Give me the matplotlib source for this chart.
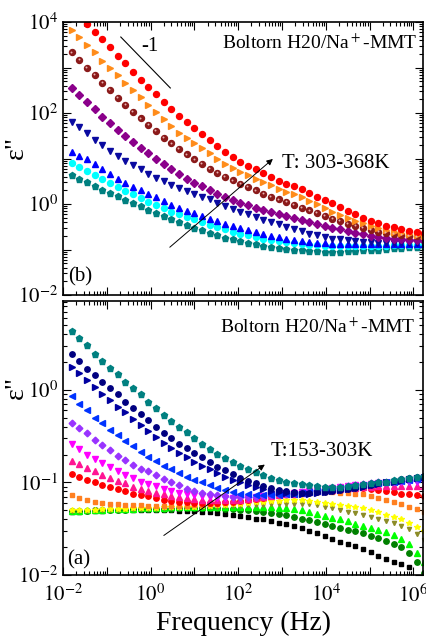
import numpy as np
import matplotlib
matplotlib.use('Agg')
import matplotlib.pyplot as plt
from matplotlib.ticker import LogLocator, FuncFormatter, NullFormatter
from matplotlib.transforms import ScaledTranslation

plt.rcParams['font.family'] = ['Liberation Serif', 'DejaVu Serif']
plt.rcParams['mathtext.fontset'] = 'stix'

# log10 of frequency (Hz), same grid for all curves
logf = [-1.800, -1.625, -1.450, -1.275, -1.100, -0.925, -0.750, -0.575, -0.400, -0.225,
        -0.050, 0.125, 0.300, 0.475, 0.650, 0.825, 1.000, 1.175, 1.350, 1.525,
        1.700, 1.875, 2.050, 2.225, 2.400, 2.575, 2.750, 2.925, 3.100, 3.275,
        3.450, 3.625, 3.800, 3.975, 4.150, 4.325, 4.500, 4.675, 4.850, 5.025,
        5.200, 5.375, 5.550, 5.725, 5.900, 6.075, 6.250]

# ---- panel (b): log10(eps'') , 303-368K ----
b_red = [4.30, 4.13, 3.96, 3.79, 3.62, 3.44, 3.26, 3.09, 2.91, 2.73,
         2.58, 2.42, 2.25, 2.08, 1.93, 1.81, 1.67, 1.54, 1.40, 1.27,
         1.15, 1.04, 0.92, 0.83, 0.76, 0.68, 0.59, 0.51, 0.45, 0.39,
         0.32, 0.24, 0.16, 0.09, 0.02, -0.07, -0.15, -0.23, -0.30, -0.37,
         -0.42, -0.48, -0.51, -0.56, -0.59, -0.61, -0.64]
b_orange = [3.82, 3.66, 3.49, 3.33, 3.15, 2.98, 2.84, 2.67, 2.51, 2.35,
            2.18, 2.03, 1.86, 1.71, 1.57, 1.45, 1.33, 1.22, 1.11, 0.99,
            0.87, 0.79, 0.71, 0.63, 0.55, 0.48, 0.42, 0.34, 0.27, 0.22,
            0.16, 0.07, -0.01, -0.09, -0.17, -0.24, -0.31, -0.37, -0.42, -0.48,
            -0.53, -0.57, -0.61, -0.64, -0.67, -0.68, -0.70]
b_brown = [3.33, 3.16, 3.00, 2.84, 2.67, 2.51, 2.34, 2.18, 2.03, 1.88,
           1.74, 1.60, 1.46, 1.33, 1.21, 1.09, 0.98, 0.88, 0.78, 0.69,
           0.60, 0.52, 0.44, 0.37, 0.30, 0.23, 0.16, 0.10, 0.04, -0.02,
           -0.08, -0.14, -0.20, -0.27, -0.33, -0.38, -0.43, -0.48, -0.53, -0.57,
           -0.61, -0.64, -0.66, -0.68, -0.70, -0.71, -0.72]
b_purple = [2.54, 2.40, 2.25, 2.08, 1.92, 1.77, 1.63, 1.49, 1.37, 1.24,
            1.11, 1.00, 0.88, 0.76, 0.66, 0.56, 0.47, 0.39, 0.31, 0.23,
            0.16, 0.09, 0.03, -0.03, -0.08, -0.13, -0.18, -0.23, -0.27, -0.31,
            -0.35, -0.40, -0.44, -0.48, -0.52, -0.56, -0.60, -0.64, -0.67, -0.70,
            -0.73, -0.75, -0.77, -0.78, -0.79, -0.80, -0.81]
b_navy = [1.81, 1.69, 1.55, 1.41, 1.30, 1.16, 1.05, 0.95, 0.86, 0.76,
          0.67, 0.58, 0.50, 0.42, 0.35, 0.29, 0.23, 0.16, 0.10, 0.03,
          -0.04, -0.11, -0.17, -0.23, -0.29, -0.35, -0.40, -0.45, -0.50, -0.55,
          -0.60, -0.65, -0.69, -0.73, -0.76, -0.78, -0.80, -0.82, -0.83, -0.84,
          -0.85, -0.85, -0.85, -0.85, -0.85, -0.85, -0.85]
b_blue = [1.15, 1.05, 0.98, 0.89, 0.76, 0.67, 0.56, 0.47, 0.38, 0.31,
          0.22, 0.15, 0.07, -0.02, -0.09, -0.15, -0.20, -0.26, -0.32, -0.38,
          -0.43, -0.48, -0.53, -0.58, -0.62, -0.66, -0.70, -0.73, -0.76, -0.79,
          -0.81, -0.83, -0.85, -0.86, -0.87, -0.88, -0.88, -0.89, -0.89, -0.89,
          -0.89, -0.89, -0.88, -0.88, -0.88, -0.88, -0.88]
b_cyan = [0.91, 0.82, 0.73, 0.64, 0.54, 0.47, 0.38, 0.29, 0.22, 0.14,
          0.05, -0.02, -0.09, -0.17, -0.22, -0.28, -0.34, -0.40, -0.46, -0.51,
          -0.56, -0.61, -0.65, -0.69, -0.73, -0.76, -0.79, -0.82, -0.84, -0.86,
          -0.88, -0.90, -0.91, -0.92, -0.93, -0.93, -0.93, -0.93, -0.93, -0.92,
          -0.92, -0.92, -0.91, -0.91, -0.90, -0.90, -0.90]
# 303K is in both panels
e303 = [0.64, 0.56, 0.48, 0.39, 0.31, 0.24, 0.17, 0.09, 0.02, -0.05,
        -0.13, -0.20, -0.27, -0.34, -0.40, -0.46, -0.52, -0.58, -0.64, -0.69,
        -0.74, -0.78, -0.82, -0.86, -0.89, -0.92, -0.95, -0.97, -0.99, -1.01,
        -1.02, -1.03, -1.04, -1.05, -1.05, -1.05, -1.04, -1.03, -1.02, -1.01,
        -1.00, -0.99, -0.97, -0.96, -0.95, -0.94, -0.93]

# ---- panel (a): log10(eps''), 153-303K ----
a_navyc = [0.39, 0.31, 0.23, 0.16, 0.09, 0.02, -0.05, -0.13, -0.20, -0.26,
           -0.33, -0.40, -0.47, -0.52, -0.58, -0.63, -0.68, -0.73, -0.78, -0.83,
           -0.87, -0.91, -0.95, -0.98, -1.01, -1.04, -1.06, -1.08, -1.09, -1.10,
           -1.11, -1.11, -1.10, -1.10, -1.09, -1.08, -1.07, -1.06, -1.04, -1.03,
           -1.01, -0.99, -0.98, -0.96, -0.95, -0.94, -0.93]
a_navyt = [0.25, 0.18, 0.11, 0.03, -0.04, -0.11, -0.18, -0.24, -0.32, -0.38,
           -0.44, -0.51, -0.57, -0.63, -0.68, -0.73, -0.78, -0.82, -0.86, -0.90,
           -0.94, -0.97, -1.00, -1.03, -1.05, -1.07, -1.09, -1.10, -1.11, -1.12,
           -1.12, -1.12, -1.11, -1.10, -1.09, -1.08, -1.07, -1.06, -1.05, -1.03,
           -1.02, -1.00, -0.99, -0.98, -0.96, -0.95, -0.94]
a_blue = [-0.07, -0.15, -0.22, -0.30, -0.36, -0.43, -0.49, -0.55, -0.61, -0.67,
          -0.72, -0.77, -0.82, -0.86, -0.90, -0.94, -0.97, -1.00, -1.03, -1.06,
          -1.08, -1.10, -1.12, -1.13, -1.14, -1.14, -1.14, -1.14, -1.13, -1.12,
          -1.11, -1.10, -1.09, -1.08, -1.07, -1.06, -1.05, -1.04, -1.03, -1.02,
          -1.01, -1.00, -0.99, -0.98, -0.97, -0.96, -0.95]
a_violet = [-0.36, -0.41, -0.47, -0.54, -0.60, -0.65, -0.71, -0.76, -0.81, -0.85,
            -0.88, -0.92, -0.96, -1.00, -1.03, -1.07, -1.09, -1.11, -1.13, -1.14,
            -1.15, -1.16, -1.16, -1.16, -1.16, -1.15, -1.14, -1.13, -1.12, -1.11,
            -1.10, -1.09, -1.08, -1.07, -1.06, -1.05, -1.04, -1.03, -1.02, -1.01,
            -1.00, -0.99, -0.99, -0.98, -0.98, -0.97, -0.97]
a_magenta = [-0.59, -0.64, -0.70, -0.75, -0.79, -0.83, -0.88, -0.92, -0.95, -0.99,
             -1.02, -1.04, -1.07, -1.09, -1.11, -1.13, -1.14, -1.15, -1.16, -1.17,
             -1.17, -1.17, -1.17, -1.17, -1.16, -1.15, -1.14, -1.13, -1.12, -1.11,
             -1.10, -1.09, -1.08, -1.07, -1.06, -1.05, -1.04, -1.03, -1.03, -1.02,
             -1.01, -1.01, -1.00, -1.00, -1.00, -0.99, -0.99]
a_pink = [-0.77, -0.80, -0.84, -0.88, -0.92, -0.95, -0.98, -1.01, -1.05, -1.07,
          -1.09, -1.11, -1.13, -1.15, -1.16, -1.17, -1.18, -1.19, -1.19, -1.19,
          -1.19, -1.19, -1.19, -1.18, -1.17, -1.16, -1.15, -1.14, -1.13, -1.12,
          -1.11, -1.10, -1.09, -1.08, -1.08, -1.07, -1.06, -1.06, -1.05, -1.05,
          -1.04, -1.04, -1.04, -1.04, -1.04, -1.04, -1.04]
a_red = [-0.91, -0.94, -0.97, -1.00, -1.03, -1.05, -1.07, -1.09, -1.12, -1.14,
         -1.15, -1.17, -1.19, -1.20, -1.21, -1.21, -1.22, -1.22, -1.22, -1.22,
         -1.21, -1.21, -1.20, -1.19, -1.18, -1.17, -1.15, -1.14, -1.12, -1.11,
         -1.10, -1.09, -1.08, -1.07, -1.07, -1.06, -1.06, -1.06, -1.06, -1.07,
         -1.08, -1.09, -1.10, -1.12, -1.13, -1.14, -1.15]
a_orange = [-1.14, -1.17, -1.19, -1.21, -1.22, -1.23, -1.23, -1.24, -1.24, -1.24,
            -1.25, -1.25, -1.25, -1.25, -1.25, -1.25, -1.24, -1.24, -1.23, -1.23,
            -1.22, -1.21, -1.20, -1.19, -1.18, -1.16, -1.15, -1.13, -1.12, -1.11,
            -1.10, -1.10, -1.10, -1.10, -1.10, -1.11, -1.11, -1.12, -1.13, -1.15,
            -1.17, -1.19, -1.21, -1.23, -1.26, -1.29, -1.32]
a_yellow = [-1.30, -1.30, -1.30, -1.30, -1.29, -1.29, -1.29, -1.29, -1.28, -1.28,
            -1.28, -1.28, -1.27, -1.27, -1.27, -1.26, -1.26, -1.25, -1.25, -1.24,
            -1.24, -1.23, -1.23, -1.22, -1.21, -1.21, -1.20, -1.20, -1.19, -1.19,
            -1.19, -1.20, -1.21, -1.22, -1.23, -1.24, -1.25, -1.27, -1.28, -1.30,
            -1.32, -1.35, -1.37, -1.40, -1.44, -1.48, -1.52]
a_olive = [-1.31, -1.31, -1.31, -1.30, -1.30, -1.30, -1.30, -1.29, -1.29, -1.29,
           -1.29, -1.29, -1.28, -1.28, -1.28, -1.27, -1.27, -1.27, -1.26, -1.26,
           -1.25, -1.25, -1.25, -1.24, -1.24, -1.24, -1.23, -1.23, -1.23, -1.23,
           -1.23, -1.23, -1.24, -1.26, -1.28, -1.30, -1.32, -1.33, -1.35, -1.37,
           -1.40, -1.42, -1.44, -1.47, -1.50, -1.56, -1.62]
a_lime = [-1.31, -1.31, -1.30, -1.30, -1.30, -1.29, -1.29, -1.29, -1.29, -1.28,
          -1.28, -1.28, -1.28, -1.27, -1.27, -1.27, -1.27, -1.26, -1.26, -1.26,
          -1.26, -1.26, -1.26, -1.26, -1.26, -1.27, -1.27, -1.28, -1.28, -1.29,
          -1.30, -1.32, -1.34, -1.36, -1.38, -1.40, -1.42, -1.45, -1.47, -1.49,
          -1.51, -1.54, -1.57, -1.61, -1.67, -1.76, -1.86]
a_green = [-1.31, -1.31, -1.31, -1.30, -1.30, -1.30, -1.30, -1.30, -1.29, -1.29,
           -1.29, -1.29, -1.29, -1.29, -1.28, -1.28, -1.28, -1.28, -1.28, -1.28,
           -1.29, -1.29, -1.30, -1.30, -1.31, -1.32, -1.33, -1.34, -1.35, -1.37,
           -1.39, -1.41, -1.43, -1.45, -1.47, -1.49, -1.51, -1.53, -1.55, -1.58,
           -1.60, -1.63, -1.66, -1.70, -1.76, -1.86, -1.98]
a_black = [-1.32, -1.32, -1.31, -1.31, -1.31, -1.30, -1.30, -1.30, -1.30, -1.30,
           -1.30, -1.30, -1.30, -1.30, -1.31, -1.31, -1.31, -1.32, -1.32, -1.33,
           -1.34, -1.35, -1.36, -1.37, -1.39, -1.40, -1.42, -1.44, -1.45, -1.47,
           -1.49, -1.52, -1.55, -1.58, -1.61, -1.64, -1.67, -1.69, -1.72, -1.75,
           -1.79, -1.83, -1.86, -1.88, -1.91, -2.08, -2.25]

f = 10 ** np.array(logf)

fig = plt.figure(figsize=(4.26, 6.37), dpi=100)
ax1 = fig.add_axes([63/426, 1-295/637, 360/426, 273/637])
ax2 = fig.add_axes([63/426, 1-575/637, 360/426, 274/637])

# (data, marker, color, size) from low T to high T
top_series = [(e303, 'p', '#008080', 4.8), (b_cyan, 'o', '#00FFFF', 4.3),
              (b_blue, '^', '#0000FF', 4.6), (b_navy, 'v', '#0A0AA0', 4.6),
              (b_purple, 'D', '#8B008B', 3.6), (b_brown, 'o', '#8B1A1A', 4.3),
              (b_orange, '>', '#FF8C1A', 4.6), (b_red, 'o', '#FF0000', 4.3)]
for y, m, c, s in top_series:
    ax1.plot(f, 10 ** np.array(y), ls='none', marker=m, color=c, ms=s, mec=c)
# shine on the brown spheres
shine = ax1.transData + ScaledTranslation(-0.8/100, 0.8/100, fig.dpi_scale_trans)
ax1.plot(f, 10 ** np.array(b_brown), ls='none', marker='o', ms=1.4,
         color='#E8B0B0', mec='none', transform=shine)

bot_series = [(a_black, 's', '#000000', 3.4), (a_green, 'o', '#008000', 3.9),
              (a_lime, '^', '#00FF00', 4.3), (a_olive, 'v', '#8C8C28', 3.0),
              (a_yellow, '*', '#FFFF00', 4.0), (a_orange, 's', '#FF8020', 3.4),
              (a_red, 'o', '#FF0000', 3.9), (a_pink, '^', '#FF1493', 4.3),
              (a_magenta, 'v', '#FF00FF', 4.3), (a_violet, 'D', '#9933FF', 3.4),
              (a_blue, '<', '#0033FF', 4.3), (a_navyt, '>', '#0000A0', 4.3),
              (a_navyc, 'o', '#000080', 3.9), (e303, 'p', '#008080', 4.6)]
for y, m, c, s in bot_series:
    ax2.plot(f, 10 ** np.array(y), ls='none', marker=m, color=c, ms=s, mec=c)


def every_other(v, pos):
    e = int(round(np.log10(v)))
    return r'$10^{%d}$' % e if e % 2 == 0 else ''


def every_one(v, pos):
    return r'$10^{%d}$' % int(round(np.log10(v)))


for ax in (ax1, ax2):
    ax.set_xscale('log')
    ax.set_yscale('log')
    ax.set_xlim(1e-2, 10 ** 6.22)
    ax.xaxis.set_major_locator(LogLocator(base=10, numticks=20))
    ax.xaxis.set_minor_locator(LogLocator(base=10, subs=np.arange(2, 10), numticks=20))
    ax.yaxis.set_major_locator(LogLocator(base=10, numticks=20))
    ax.yaxis.set_minor_locator(LogLocator(base=10, subs=np.arange(2, 10), numticks=20))
    ax.xaxis.set_minor_formatter(NullFormatter())
    ax.yaxis.set_minor_formatter(NullFormatter())
    ax.xaxis.set_major_formatter(FuncFormatter(every_other))
    ax.tick_params(which='both', direction='in', top=True, right=True, labelsize=15, width=0.8)
    ax.tick_params(which='major', length=6)
    ax.tick_params(which='minor', length=3)
    for sp in ax.spines.values():
        sp.set_linewidth(1.2)

ax1.set_ylim(1e-2, 1e4)
ax1.yaxis.set_major_formatter(FuncFormatter(every_other))
ax1.tick_params(labelbottom=False)
ax2.set_ylim(1e-2, 10 ** 0.96)
ax2.yaxis.set_major_formatter(FuncFormatter(every_one))
ax2.tick_params(axis='x', pad=7)

# panel (b) annotations
ax1.text(0.985, 0.923, 'Boltorn H20/Na$^+$-MMT', transform=ax1.transAxes,
         ha='right', va='center', fontsize=14)
ax1.text(0.014, 0.066, '(b)', transform=ax1.transAxes, ha='left', va='center', fontsize=15)
ax1.plot([10 ** -0.68, 10 ** 0.45], [10 ** 3.67, 10 ** 2.55], color='black', lw=0.8)
ax1.text(0.242, 0.912, '-1', transform=ax1.transAxes, ha='center', va='center', fontsize=15)
ax1.annotate('', xy=(10 ** 2.84, 10 ** 1.03), xytext=(10 ** 0.39, 10 ** -0.99),
             arrowprops=dict(arrowstyle='-|>', color='black', lw=0.7, mutation_scale=9))
ax1.text(10 ** 3.0, 10 ** 0.9, 'T: 303-368K', ha='left', va='center', fontsize=15)

# panel (a) annotations
ax2.text(0.978, 0.905, 'Boltorn H20/Na$^+$-MMT', transform=ax2.transAxes,
         ha='right', va='center', fontsize=14)
ax2.text(0.011, 0.055, '(a)', transform=ax2.transAxes, ha='left', va='center', fontsize=15)
ax2.annotate('', xy=(10 ** 2.66, 10 ** -0.79), xytext=(10 ** 0.25, 10 ** -1.59),
             arrowprops=dict(arrowstyle='-|>', color='black', lw=0.7, mutation_scale=9))
ax2.text(10 ** 2.75, 10 ** -0.67, 'T:153-303K', ha='left', va='center', fontsize=15)

ax2.set_xlabel('Frequency (Hz)', fontsize=20, labelpad=3)
fig.text(0.038, 1 - 147/637, 'ε"', rotation=90, ha='center', va='center', fontsize=20)
fig.text(0.038, 1 - 387/637, 'ε"', rotation=90, ha='center', va='center', fontsize=20)

fig.savefig('out.png', dpi=100)
